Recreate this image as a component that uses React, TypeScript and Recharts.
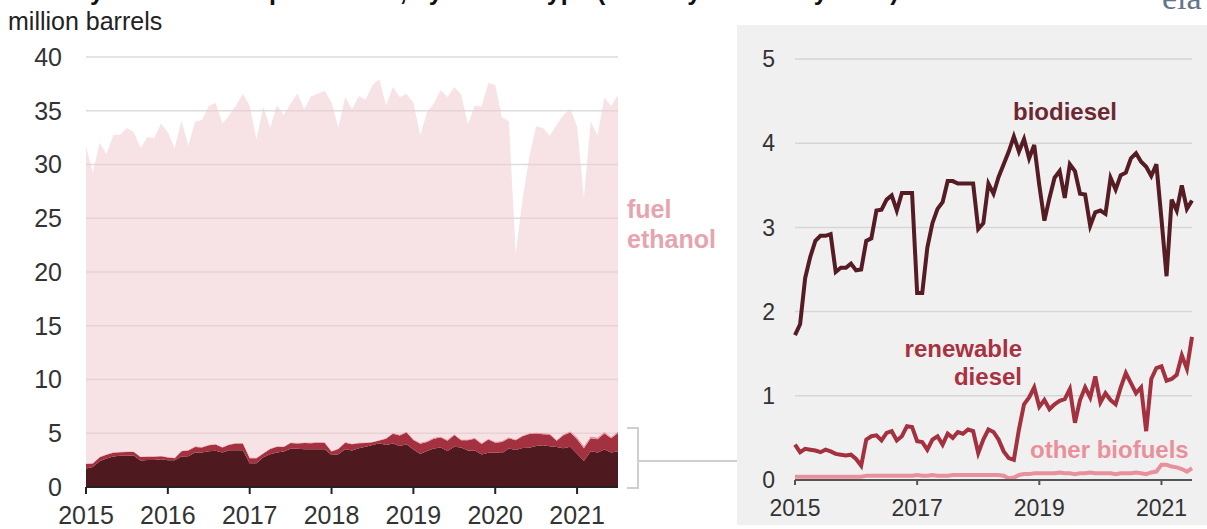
import { Area, AreaChart, CartesianGrid, Line, LineChart, XAxis, YAxis } from 'recharts'

// Jan 2015 .. Jul 2021, one entry per month
const months: string[] = []
for (let y = 2015; y <= 2021; y++) {
  for (let m = 1; m <= 12; m++) {
    if (y === 2021 && m > 7) break
    months.push(`${y}-${String(m).padStart(2, '0')}`)
  }
}

// million barrels per month
const biodiesel = [
  1.72, 1.85, 2.4, 2.65, 2.84, 2.9, 2.9, 2.92, 2.47, 2.52, 2.52, 2.57,
  2.49, 2.5, 2.84, 2.87, 3.2, 3.21, 3.33, 3.38, 3.2, 3.41, 3.41, 3.41,
  2.22, 2.22, 2.76, 3.05, 3.22, 3.3, 3.55, 3.55, 3.52, 3.52, 3.52, 3.52,
  2.98, 3.05, 3.52, 3.4, 3.6, 3.75, 3.9, 4.08, 3.9, 4.05, 3.82, 3.98,
  3.5, 3.08, 3.35, 3.59, 3.67, 3.35, 3.75, 3.67, 3.4, 3.39, 3.02, 3.18,
  3.2, 3.16, 3.59, 3.45, 3.62, 3.65, 3.82, 3.88, 3.78, 3.72, 3.61, 3.75,
  3.1, 2.42, 3.33, 3.2, 3.5, 3.22, 3.32,
]
const renewableDiesel = [
  0.42, 0.33, 0.37, 0.36, 0.35, 0.33, 0.36, 0.34, 0.31, 0.3, 0.29, 0.3,
  0.25, 0.17, 0.48, 0.52, 0.53, 0.47, 0.56, 0.58, 0.47, 0.52, 0.64, 0.63,
  0.46, 0.45, 0.36, 0.48, 0.52, 0.42, 0.55, 0.5, 0.57, 0.55, 0.6, 0.58,
  0.32, 0.48, 0.6, 0.57, 0.48, 0.34, 0.26, 0.24, 0.6, 0.9, 0.98, 1.1,
  0.87, 0.95, 0.84, 0.9, 0.94, 0.96, 1.08, 0.68, 0.95, 1.1, 0.98, 1.23,
  0.92, 1.03, 0.95, 0.9, 1.1, 1.27, 1.15, 1.03, 1.1, 0.58, 1.2, 1.33,
  1.35, 1.18, 1.2, 1.25, 1.48, 1.32, 1.7,
]
const otherBiofuels = [
  0.04, 0.04, 0.04, 0.04, 0.04, 0.04, 0.04, 0.04, 0.04, 0.04, 0.04, 0.04,
  0.04, 0.04, 0.05, 0.05, 0.05, 0.05, 0.05, 0.05, 0.05, 0.05, 0.05, 0.05,
  0.06, 0.05, 0.05, 0.06, 0.05, 0.05, 0.05, 0.06, 0.06, 0.06, 0.06, 0.06,
  0.06, 0.06, 0.06, 0.06, 0.06, 0.05, 0.02, 0.03, 0.06, 0.07, 0.07, 0.08,
  0.08, 0.08, 0.08, 0.08, 0.09, 0.08, 0.08, 0.07, 0.08, 0.08, 0.09, 0.08,
  0.08, 0.08, 0.08, 0.07, 0.08, 0.08, 0.08, 0.09, 0.08, 0.07, 0.09, 0.1,
  0.18, 0.18, 0.16, 0.15, 0.13, 0.1, 0.14,
]
const fuelEthanol = [
  29.5, 27.0, 29.2, 27.9, 29.5, 29.5, 30.1, 29.7, 28.7, 29.7, 29.6, 30.9,
  30.2, 28.8, 30.7, 28.3, 30.2, 30.4, 31.5, 31.7, 30.1, 30.6, 31.4, 32.5,
  32.7, 29.6, 32.2, 29.8, 31.7, 30.8, 31.5, 32.5, 31.0, 32.2, 32.4, 32.7,
  32.4, 29.8, 32.1, 31.1, 32.2, 31.9, 33.2, 33.6, 30.9, 32.2, 31.4, 31.4,
  31.3, 28.6, 30.6, 31.1, 32.2, 31.9, 32.3, 32.1, 29.3, 30.9, 31.3, 33.1,
  33.2, 30.1, 29.4, 17.3, 21.9, 25.7, 28.5, 28.4, 27.7, 29.3, 29.7, 30.0,
  28.9, 23.1, 29.3, 28.1, 31.1, 30.8, 31.3,
]

const leftYearTicks = ['2015-01', '2016-01', '2017-01', '2018-01', '2019-01', '2020-01', '2021-01']
const rightYearTicks = ['2015-01', '2017-01', '2019-01', '2021-01']
const leftValueTicks = [0, 5, 10, 15, 20, 25, 30, 35, 40]
const rightValueTicks = [0, 1, 2, 3, 4, 5]

const rows = months.map((month, i) => ({
  month,
  biodiesel: biodiesel[i],
  renewableDiesel: renewableDiesel[i],
  otherBiofuels: otherBiofuels[i],
  fuelEthanol: fuelEthanol[i],
}))

const font = 'Arial, "Liberation Sans", sans-serif'
const yearOnly = (v: string) => v.slice(0, 4)

export default function App() {
  return (
    <div style={{ position: 'absolute', left: 0, top: 0, width: 1207, height: 529, background: '#fff', overflow: 'hidden', fontFamily: font }}>
      <div style={{ position: 'absolute', left: 737, top: 25, width: 470, height: 500, background: '#f0f0f0' }} />

      <div style={{ position: 'absolute', left: 0, top: 0 }}>
        <AreaChart width={740} height={529} data={rows} margin={{ top: 57, right: 122, bottom: 0, left: 26 }}>
          <CartesianGrid vertical={false} stroke="#dcdcdc" strokeWidth={1.5} />
          <XAxis
            dataKey="month"
            scale="point"
            ticks={leftYearTicks}
            interval={0}
            tickFormatter={yearOnly}
            height={42}
            tickSize={7}
            tickMargin={12}
            stroke="#222"
            strokeWidth={2}
            tick={{ fill: '#333', fontSize: 25, fontFamily: font }}
          />
          <YAxis
            domain={[0, 40]}
            ticks={leftValueTicks}
            width={60}
            axisLine={false}
            tickLine={false}
            tickSize={0}
            tickMargin={24}
            tick={{ fill: '#333', fontSize: 25, fontFamily: font }}
          />
          <Area dataKey="biodiesel" stackId="a" stroke="none" fill="#4e1a1f" fillOpacity={1} isAnimationActive={false} />
          <Area dataKey="renewableDiesel" stackId="a" stroke="none" fill="#a3313f" fillOpacity={1} isAnimationActive={false} />
          <Area dataKey="otherBiofuels" stackId="a" stroke="none" fill="#e8919d" fillOpacity={1} isAnimationActive={false} />
          <Area dataKey="fuelEthanol" stackId="a" stroke="none" fill="#f0cbd1" fillOpacity={0.55} isAnimationActive={false} />
        </AreaChart>
      </div>

      <div style={{ position: 'absolute', left: 737, top: 0 }}>
        <LineChart width={470} height={529} data={rows} margin={{ top: 59, right: 15, bottom: 0, left: 18 }}>
          <CartesianGrid vertical={false} stroke="#d6d6d6" strokeWidth={1.5} />
          <XAxis
            dataKey="month"
            scale="point"
            ticks={rightYearTicks}
            interval={0}
            tickFormatter={yearOnly}
            height={49}
            tickSize={5}
            tickMargin={15}
            stroke="#555"
            strokeWidth={2}
            tick={{ fill: '#333', fontSize: 23, fontFamily: font }}
          />
          <YAxis
            domain={[0, 5]}
            ticks={rightValueTicks}
            width={40}
            axisLine={false}
            tickLine={false}
            tickSize={0}
            tickMargin={20}
            tick={{ fill: '#333', fontSize: 23, fontFamily: font }}
          />
          <Line dataKey="otherBiofuels" stroke="#e8919d" strokeWidth={4} dot={false} isAnimationActive={false} />
          <Line dataKey="renewableDiesel" stroke="#a3313f" strokeWidth={4} dot={false} isAnimationActive={false} />
          <Line dataKey="biodiesel" stroke="#561c24" strokeWidth={4} dot={false} isAnimationActive={false} />
        </LineChart>
      </div>

      <svg width={1207} height={529} style={{ position: 'absolute', left: 0, top: 0, pointerEvents: 'none' }} fontFamily={font}>
        <text x={8} y={0} fontSize={25} fontWeight="bold" fill="#111">
          Monthly U.S. biofuels production, by biofuel type (January 2015–July 2021)
        </text>
        <text x={8} y={30} fontSize={25} fill="#222">million barrels</text>
        <text x={1162} y={9} fontSize={34} fill="#63758a" fontFamily="'Liberation Serif', serif">eia</text>

        <text x={627} y={218} fontSize={25} fontWeight="bold" fill="#e6a4ae">fuel</text>
        <text x={627} y={248} fontSize={25} fontWeight="bold" fill="#e6a4ae">ethanol</text>

        <path d="M627 428 H638 V488 H627" fill="none" stroke="#cfcfcf" strokeWidth={2} />
        <line x1={638} y1={461} x2={737} y2={461} stroke="#cfcfcf" strokeWidth={2} />

        <text x={1013} y={120} fontSize={24} fontWeight="bold" fill="#6b2832">biodiesel</text>
        <text x={1022} y={357} fontSize={24} fontWeight="bold" fill="#a8323f" textAnchor="end">renewable</text>
        <text x={1022} y={385} fontSize={24} fontWeight="bold" fill="#a8323f" textAnchor="end">diesel</text>
        <text x={1030} y={458} fontSize={24} fontWeight="bold" fill="#e8919d">other biofuels</text>
      </svg>
    </div>
  )
}
